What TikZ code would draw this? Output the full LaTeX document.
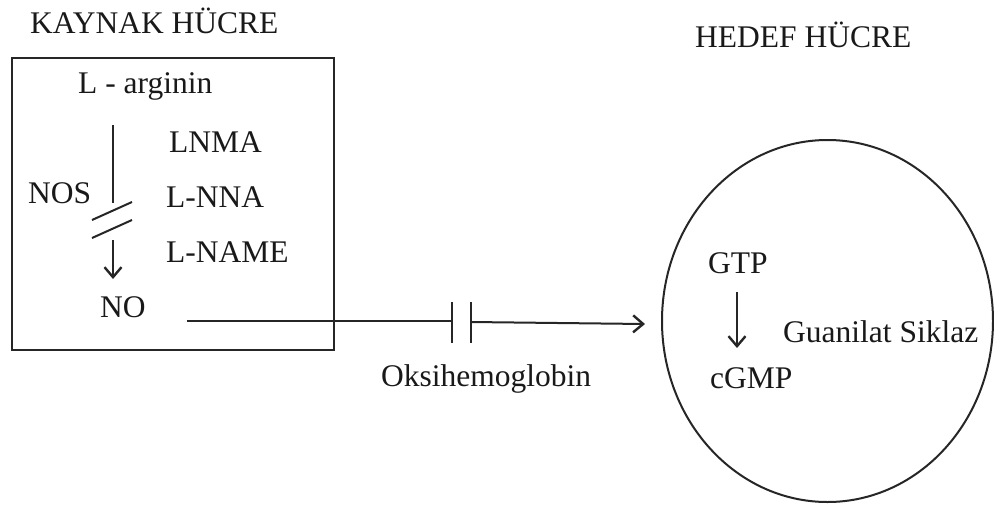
\documentclass[tikz,border=0pt]{standalone}
\usepackage{fontspec}
\setmainfont{Liberation Serif}
\usetikzlibrary{arrows.meta,shapes.geometric}
\begin{document}
\begin{tikzpicture}[x=1pt,y=-1pt,
  lbl/.style={anchor=base west,inner sep=0pt,font=\fontsize{31.5}{36}\selectfont,text=black!90},
  ln/.style={line width=2pt,draw=black!85},
  arr/.style={ln,-{Straight Barb[length=10pt,width=17pt,line width=2.4pt]}}]
\useasboundingbox (0,0) rectangle (994,507);
% titles
\node[lbl] (kaynak) at (30,33) {KAYNAK HÜCRE};
\node[lbl] (hedef) at (695,47) {HEDEF HÜCRE};
% source cell box
\draw[ln] (12,58) rectangle (334,350);
\node[lbl] (arg) at (78,93) {L - arginin};
\node[lbl] (lnma) at (169,152) {LNMA};
\node[lbl] (lnna) at (166,207) {L-NNA};
\node[lbl] (lname) at (166,262) {L-NAME};
\node[lbl] (nos) at (28,203) {NOS};
\node[lbl] (no) at (100,317) {NO};
% NOS pathway with block
\coordinate (v1) at (113,125);
\coordinate (v2) at (113,203);
\coordinate (v3) at (113,240);
\coordinate (v4) at (113,279);
\draw[ln] (v1) -- (v2);
\coordinate (s1a) at (92,220); \coordinate (s1b) at (132,202);
\coordinate (s2a) at (92,238); \coordinate (s2b) at (132,220);
\draw[ln] (s1a) -- (s1b);
\draw[ln] (s2a) -- (s2b);
\draw[arr] (v3) -- (v4);
% NO to target with oxyhemoglobin block
\coordinate (n0) at (187,321);
\coordinate (b1) at (452,321);
\coordinate (b2) at (471,322);
\coordinate (tip) at (645,324);
\draw[ln] (n0) -- (b1);
\draw[ln] (452,302) -- (452,343);
\draw[ln] (471,302) -- (471,343);
\draw[arr] (b2) -- (tip);
\node[lbl] (oksi) at (381,386) {Oksihemoglobin};
% target cell
\node[ln,draw,ellipse,minimum width=331pt,minimum height=362pt,inner sep=0pt] (cell) at (827.5,321) {};
\node[lbl] (gtp) at (708,273) {GTP};
\node[lbl] (cgmp) at (710,388) {cGMP};
\node[lbl] (gs) at (783,342) {Guanilat Siklaz};
\coordinate (g1) at (737,292);
\coordinate (g2) at (737,348);
\draw[arr] (g1) -- (g2);
\end{tikzpicture}
\end{document}
